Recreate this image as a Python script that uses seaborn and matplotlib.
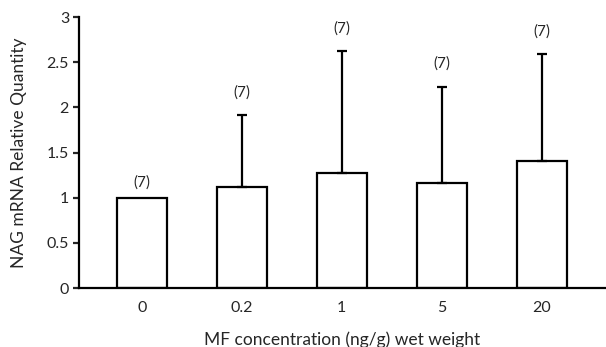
import matplotlib
matplotlib.use("Agg")
import matplotlib.pyplot as plt
import numpy as np
import pandas as pd
import seaborn as sns

concentrations = ["0", "0.2", "1", "5", "20"]
quantity = [1.0, 1.12, 1.27, 1.16, 1.41]
upper_err = [0.0, 0.79, 1.35, 1.07, 1.18]
n_labels = ["(7)", "(7)", "(7)", "(7)", "(7)"]

sns.set_style("white")
plt.rcParams["font.family"] = ["Lato", "DejaVu Sans"]

df = pd.DataFrame({"conc": concentrations, "qty": quantity, "err": upper_err})

fig = plt.figure(figsize=(6.06, 3.47), dpi=100)
ax = fig.add_axes([0.130, 0.170, 0.868, 0.781])

sns.barplot(data=df, x="conc", y="qty", order=concentrations, color="white",
            edgecolor="black", linewidth=1.6, width=0.5, errorbar=None, ax=ax)

# upper-only error bars, skip the control which has none
xpos = np.arange(len(concentrations))
has_err = df["err"] > 0
ax.errorbar(xpos[has_err], df["qty"][has_err],
            yerr=[np.zeros(has_err.sum()), df["err"][has_err]],
            fmt="none", ecolor="black", elinewidth=1.6, capsize=3.5,
            capthick=1.6)

# sample size labels above each bar
for x, q, e, lab in zip(xpos, quantity, upper_err, n_labels):
    off = 0.17 if e == 0 else 0.25
    ax.text(x, q + e + off, lab, ha="center", va="center", fontsize=11)

ax.set_xlim(-0.63, 4.63)
ax.set_ylim(0, 3)
ax.set_yticks([0, 0.5, 1, 1.5, 2, 2.5, 3])
ax.set_yticklabels(["0", "0.5", "1", "1.5", "2", "2.5", "3"])

for s in ["top", "right"]:
    ax.spines[s].set_visible(False)
for s in ["left", "bottom"]:
    ax.spines[s].set_linewidth(1.6)
    ax.spines[s].set_color("black")

ax.tick_params(axis="y", direction="out", length=4, width=1.6, labelsize=11.5,
               left=True, pad=3)
ax.tick_params(axis="x", length=0, labelsize=11.5, pad=9)

ax.set_xlabel("MF concentration (ng/g) wet weight", fontsize=12.5, labelpad=12)
ax.set_ylabel("NAG mRNA Relative Quantity", fontsize=12.5, labelpad=14)

fig.savefig("out.png", dpi=100)
